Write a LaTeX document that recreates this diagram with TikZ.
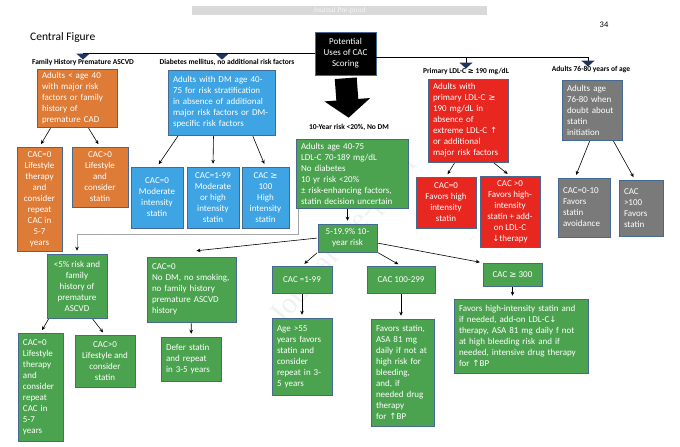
\documentclass[tikz,border=0pt]{standalone}
\usepackage{fontspec}
\setmainfont{Carlito}
\newfontfamily\symfont[Scale=0.95]{DejaVu Sans}
\newfontfamily\hdrfont{Liberation Serif}
\usetikzlibrary{arrows.meta, positioning}
\definecolor{edgeb}{RGB}{70,105,145}
\definecolor{orng}{RGB}{222,123,54}
\definecolor{blu}{RGB}{62,164,228}
\definecolor{rd}{RGB}{232,40,32}
\definecolor{gry}{RGB}{122,122,122}
\definecolor{grn}{RGB}{76,163,79}
\definecolor{navy}{RGB}{31,52,92}
\newcommand{\geqs}{{\symfont ≥}}
\newcommand{\uparr}{{\symfont ↑}}
\newcommand{\dnarr}{{\symfont ↓}}
\tikzset{
  bx/.style     = {rectangle, draw=edgeb, line width=0.5pt, text=white,
                   align=center, font=\fontsize{9}{11}\selectfont, inner sep=2pt},
  sz/.style 2 args = {minimum width=#1, minimum height=#2},
  lft/.style    = {align=left, text width=#1, inner xsep=5pt},
  orbox/.style  = {bx, fill=orng},
  blbox/.style  = {bx, fill=blu},
  rdbox/.style  = {bx, fill=rd},
  gybox/.style  = {bx, fill=gry},
  gnbox/.style  = {bx, fill=grn},
  lbl/.style    = {font=\fontsize{7.5}{9}\selectfont\bfseries, inner sep=1pt},
  fl/.style     = {-{Stealth[length=4pt, width=3.6pt]}, line width=0.6pt,
                   shorten <=1pt, shorten >=3pt},
  topfl/.style  = {-{Triangle[length=6pt, width=13pt, color=navy]}, line width=1pt},
  bigfl/.style  = {-{Triangle[length=18pt 0, width=45pt 0]}, line width=22pt},
}

\begin{document}
\begin{tikzpicture}[x=1pt, y=-1pt]
  \useasboundingbox (0,0) rectangle (680,447);

  \node[rotate=50, text=gray!12, font=\hdrfont\fontsize{30}{30}\selectfont] (wm) at (345,240) {Journal Pre-proof};
  \node[fill=gray!30, text=gray!6, font=\hdrfont\fontsize{7.5}{8}\selectfont,
        minimum width=295, minimum height=9, inner sep=0, anchor=north west] (hdr) at (192,6) {Journal Pre-proof};
  \node[font=\fontsize{8.5}{10}\selectfont] (pg) at (604,25) {34};
  \node[font=\fontsize{11.5}{13}\selectfont, anchor=west, inner sep=0] (ttl) at (30,37) {Central Figure};

  \node[bx, fill=black, sz={61}{43}] (root) at (345.5,53.5) {Potential\\Uses of CAC\\Scoring};

  \node[lbl] (famlbl) at (83,62)  {Family History Premature ASCVD};
  \node[lbl] (dmlbl)  at (227,62) {Diabetes mellitus, no additional risk factors};
  \node[lbl] (tenlbl) at (349,127) {10-Year risk <20\%, No DM};
  \node[lbl] (ldllbl) at (466,72) {Primary LDL-C \geqs{} 190 mg/dL};
  \node[lbl] (agelbl) at (591,70) {Adults 76-80 years of age};

  \node[orbox, lft=70pt, sz={80}{58}] (famrisk) at (77,98) {Adults < age 40\\with major risk\\factors or family\\history of\\premature  CAD};
  \node[orbox, sz={45}{104}] (fam0)  at (39.5,199) {CAC=0\\Lifestyle\\therapy\\and\\consider\\repeat\\CAC  in\\5-7\\years};
  \node[orbox, sz={56}{60}] (fampos) at (100,177) {CAC>0\\Lifestyle\\and\\consider\\statin};

  \node[blbox, lft=97pt, sz={107}{65}] (dmrisk) at (221.5,102.5) {Adults with DM age 40-\\75  for risk stratification\\in absence of additional\\major risk factors or DM-\\specific risk factors};
  \node[blbox, sz={52}{61}] (dm0)   at (157,197.5)   {CAC=0\\Moderate\\intensity\\statin};
  \node[blbox, sz={52}{61}] (dm1)   at (213,197.5)   {CAC=1-99\\Moderate\\or high\\intensity\\statin};
  \node[blbox, sz={47}{61}] (dm100) at (265.5,197.5) {CAC \geqs\\100\\High\\intensity\\statin};

  \node[gnbox, lft=102pt, sz={112}{69}] (risk) at (352,173.5) {Adults age 40-75\\LDL-C 70-189 mg/dL\\No diabetes\\10 yr risk <20\%\\± risk-enhancing factors,\\statin decision uncertain};
  \node[gnbox, sz={59}{28}] (mid) at (347.5,238) {5-19.9\% 10-\\year risk};

  \node[rdbox, lft=70pt, sz={80}{83}] (ldl) at (468,120.5) {Adults with\\primary LDL-C \geqs\\190 mg/dL in\\absence of\\extreme LDL-C \uparr\\or additional\\major risk factors};
  \node[rdbox, sz={60}{51}] (ldl0)   at (446,202.5) {CAC=0\\Favors high\\intensity\\statin};
  \node[rdbox, sz={60}{71}] (ldlpos) at (510,211.5) {CAC >0\\Favors high-\\intensity\\statin + add-\\on LDL-C\\\dnarr{}therapy};

  \node[gybox, lft=50pt, sz={60}{60}] (old)    at (592,110)   {Adults age\\76-80 when\\doubt about\\statin\\initiation};
  \node[gybox, lft=42pt, sz={52}{59}] (old0)   at (584,207.5) {CAC=0-10\\Favors\\statin\\avoidance};
  \node[gybox, lft=34pt, sz={44}{56}] (old100) at (641,208)   {CAC\\>100\\Favors\\statin};

  \node[gnbox, sz={60}{64}] (low) at (77,286) {<5\% risk and\\family\\history of\\premature\\ASCVD};
  \node[gnbox, lft=35pt, sz={45}{108}] (low0) at (40.5,387) {CAC=0\\Lifestyle\\therapy\\and\\consider\\repeat\\CAC in\\5-7\\years};
  \node[gnbox, sz={60}{52}] (lowpos) at (105,361) {CAC>0\\Lifestyle and\\consider\\statin};
  \node[gnbox, lft=79pt, sz={89}{65}] (nodm) at (191.5,289.5) {CAC=0\\No DM, no smoking,\\no family history\\premature ASCVD\\history};
  \node[gnbox, lft=50pt, sz={60}{44}] (defer) at (191,359) {Defer statin\\and repeat\\in 3-5 years};
  \node[gnbox, sz={60}{27}] (c1) at (302,279.5) {CAC =1-99};
  \node[gnbox, lft=50pt, sz={60}{77}] (age) at (302,356.5) {Age >55\\years favors\\statin and\\consider\\repeat in 3-\\5 years};
  \node[gnbox, sz={68}{27}] (c100) at (401,279.5) {CAC 100-299};
  \node[gnbox, lft=53pt, sz={63}{107}] (fav) at (402.5,372.5) {Favors statin,\\ASA 81 mg\\daily if not at\\high risk for\\bleeding,\\and, if\\needed drug\\therapy\\for \uparr{}BP};
  \node[gnbox, sz={59}{23}] (c300) at (512.5,274.5) {CAC \geqs{} 300};
  \node[gnbox, lft=124pt, sz={134}{74}] (favhi) at (521,336) {Favors high-intensity statin and\\if needed, add-on LDL-C\dnarr\\therapy, ASA 81 mg daily f not\\at high bleeding risk and if\\needed, intensive drug therapy\\for \uparr{}BP};

  \draw[topfl] (root.west) -| ([yshift=-2pt]famlbl.north);
  \draw[topfl] (root.west) -| ([xshift=-5pt,yshift=-2pt]dmlbl.north);
  \draw[topfl] ([yshift=-3.5pt]root.east) -| ([yshift=-1pt]ldllbl.north);
  \draw[topfl] ([yshift=-3.5pt]root.east) -| ([xshift=-3pt,yshift=-1pt]agelbl.north);
  \draw[bigfl, shorten <=3pt, shorten >=5pt] (root.south) -- (tenlbl.north);

  \draw[fl] ([xshift=-26pt]famrisk.south) -- (fam0.north);
  \draw[fl] ([xshift=11pt]famrisk.south) -- (fampos.north);
  \draw[fl] ([xshift=-43pt]dmrisk.south) -- (dm0.north);
  \draw[fl] ([xshift=-8pt]dmrisk.south) -- (dm1.north);
  \draw[fl] ([xshift=31pt]dmrisk.south) -- (dm100.north);
  \draw[fl] (risk.south -| mid) -- (mid.north);
  \draw[fl, shorten >=0pt] (mid.west) -- ([xshift=5pt,yshift=6pt]nodm.north);
  \draw[fl] (mid.south west) -- (c1.north);
  \draw[fl] (mid.south east) -- (c100.north);
  \draw[fl] ([yshift=-5pt]mid.east) -- (c300.north west);
  \draw[fl] (c1) -- (age);
  \draw[fl] (c100.south) -- (c100.south |- fav.north);
  \draw[fl] (c300.south) -- (c300.south |- favhi.north);
  \draw[fl] (nodm) -- (defer);
  \draw[fl] ([xshift=-28pt]low.south) -- (low0.north);
  \draw[fl] ([xshift=15pt]low.south) -- (lowpos.north);
  \draw[fl] ([xshift=-13pt]ldl.south) -- (ldl0.north);
  \draw[fl] ([xshift=25pt]ldl.south) -- (ldlpos.north);
  \draw[fl] ([xshift=-2pt]old.south) -- ([xshift=-9pt]old0.north);
  \draw[fl] ([xshift=21pt]old.south) -- ([xshift=-6pt]old100.north);
  \draw[fl, draw=gray!70, -{Stealth[length=4pt, width=3.6pt, color=black]}] ([xshift=3pt]risk.south west) -- ++(0,26) -| (low.north);
\end{tikzpicture}
\end{document}
